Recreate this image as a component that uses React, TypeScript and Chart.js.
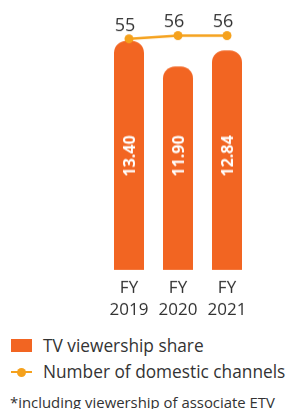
import React, { useEffect, useRef } from "react";
import { Chart, registerables } from "chart.js";

Chart.register(...registerables);

const categories = [["FY", "2019"], ["FY", "2020"], ["FY", "2021"]];
const viewershipShare = [13.4, 11.9, 12.84];
const shareLabels = ["13.40", "11.90", "12.84"];
const domesticChannels = [55, 56, 56];
const legendLabels = ["TV viewership share", "Number of domestic channels"];
const footnote = "*including viewership of associate ETV";

const BAR = "#F26522";
const LINE = "#F5A11C";
const TEXT = "#333333";
const FONT = "'Open Sans', Lato, sans-serif";

const valueLabels = {
  id: "valueLabels",
  afterDatasetsDraw(chart: any) {
    const ctx = chart.ctx;
    ctx.save();
    const barMeta = chart.getDatasetMeta(0);
    ctx.fillStyle = "#ffffff";
    ctx.font = `bold 16px ${FONT}`;
    ctx.textAlign = "left";
    ctx.textBaseline = "middle";
    barMeta.data.forEach((el: any, i: number) => {
      const { x, base } = el.getProps(["x", "base"], true);
      ctx.save();
      ctx.translate(x, base - 93);
      ctx.rotate(-Math.PI / 2);
      ctx.fillText(shareLabels[i], 0, 1);
      ctx.restore();
    });
    const lineMeta = chart.getDatasetMeta(1);
    ctx.fillStyle = TEXT;
    ctx.font = `18px ${FONT}`;
    ctx.textAlign = "center";
    ctx.textBaseline = "alphabetic";
    lineMeta.data.forEach((el: any, i: number) => {
      ctx.fillText(String(domesticChannels[i]), el.x - 4, el.y - 8);
    });
    ctx.restore();
  },
};

export default function App() {
  const canvasRef = useRef<HTMLCanvasElement | null>(null);

  useEffect(() => {
    if (!canvasRef.current) return;
    const chart = new Chart(canvasRef.current, {
      type: "bar",
      data: {
        labels: categories,
        datasets: [
          {
            type: "bar",
            label: legendLabels[0],
            data: viewershipShare,
            backgroundColor: BAR,
            borderRadius: 12,
            borderSkipped: "start",
            barPercentage: 0.612,
            categoryPercentage: 1,
            yAxisID: "y",
            order: 2,
          },
          {
            type: "line",
            label: legendLabels[1],
            data: domesticChannels,
            borderColor: LINE,
            backgroundColor: LINE,
            borderWidth: 2.5,
            pointRadius: 4.5,
            pointBackgroundColor: LINE,
            pointBorderWidth: 0,
            tension: 0,
            clip: false,
            yAxisID: "y2",
            order: 1,
          } as any,
        ],
      },
      options: {
        animation: false,
        responsive: true,
        maintainAspectRatio: false,
        layout: { padding: { left: 104.5, right: 38.5, top: 35, bottom: 0 } },
        plugins: {
          legend: { display: false },
          tooltip: { enabled: false },
        },
        scales: {
          x: {
            grid: { display: false, drawTicks: false },
            border: { display: false },
            ticks: {
              color: TEXT,
              font: { family: FONT, size: 17, lineHeight: 1.25 },
              padding: 8,
              maxRotation: 0,
              autoSkip: false,
            },
          },
          y: { display: false, min: 0, max: 13.74 },
          y2: { display: false, position: "right", min: -17, max: 56.15 },
        },
      },
      plugins: [valueLabels],
    });
    return () => chart.destroy();
  }, []);

  return (
    <div
      style={{
        position: "absolute",
        left: 0,
        top: 0,
        width: 290,
        height: 409,
        overflow: "hidden",
        background: "#ffffff",
        fontFamily: FONT,
        color: TEXT,
      }}
    >
      <div style={{ position: "absolute", left: 0, top: 0, width: 290, height: 327.5 }}>
        <canvas ref={canvasRef} />
      </div>
      <div style={{ position: "absolute", left: 11, top: 339, width: 21, height: 13, background: BAR }} />
      <div style={{ position: "absolute", left: 43, top: 336, fontSize: 17.3, lineHeight: "20px", whiteSpace: "nowrap" }}>
        {legendLabels[0]}
      </div>
      <div style={{ position: "absolute", left: 11, top: 370.5, width: 21, height: 2.5, background: LINE }} />
      <div
        style={{
          position: "absolute",
          left: 17,
          top: 367.5,
          width: 9,
          height: 9,
          borderRadius: "50%",
          background: LINE,
        }}
      />
      <div style={{ position: "absolute", left: 43, top: 362, fontSize: 17.3, lineHeight: "20px", whiteSpace: "nowrap" }}>
        {legendLabels[1]}
      </div>
      <div style={{ position: "absolute", left: 10, top: 392, fontSize: 14.9, lineHeight: "20px", whiteSpace: "nowrap" }}>
        {footnote}
      </div>
    </div>
  );
}
